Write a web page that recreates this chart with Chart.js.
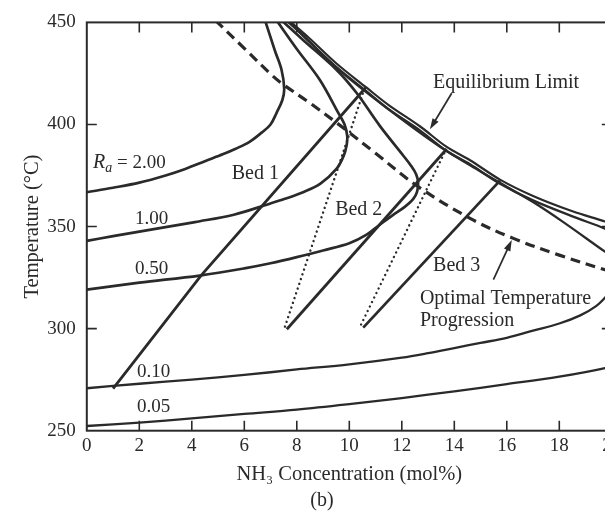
<!DOCTYPE html>
<html>
<head>
<meta charset="utf-8">
<title>Ammonia converter T-x diagram</title>
<script src="https://cdn.jsdelivr.net/npm/chart.js@4.4.1/dist/chart.umd.min.js"></script>
<style>
  html, body { margin: 0; padding: 0; background: #fff; overflow: hidden; }
  canvas { display: block; }
</style>
</head>
<body>
<canvas id="chart" width="640" height="516"></canvas>
<script>
// axis ticks
const concTicks = [0, 2, 4, 6, 8, 10, 12, 14, 16, 18, 20];
const tempTicks = [250, 300, 350, 400, 450];

// rate contours (Ra): NH3 mol% vs temperature °C
const ra200Conc = [0, 1, 2, 3, 3.75, 4.5, 5.2, 5.65, 6.2, 6.66, 7.0, 7.23, 7.45, 7.52, 7.42, 7.17, 6.79];
const ra200Temp = [366.8, 369, 371.5, 375, 378.2, 382, 385.5, 388, 391.5, 396, 400, 405.7, 412, 417.5, 426.7, 436, 451];

const ra100Conc = [0, 1, 2, 3, 4.12, 5.6, 6.97, 7.55, 8.24, 8.9, 9.51, 9.78, 9.9, 9.92, 9.82, 9.58, 8.88, 8.0, 7.23];
const ra100Temp = [343, 345.3, 347.5, 349.7, 352.2, 355.8, 361.2, 363.6, 366.8, 371, 378.2, 384.5, 390, 394.4, 400, 405.7, 421.8, 437, 451];

const ra050Conc = [0, 2, 4.3, 6, 7, 8, 9, 10, 10.66, 11.17, 11.66, 12.1, 12.43, 12.58, 12.62, 12.55, 12.35, 12.06, 11.17, 10.28, 9.52, 8.25, 7.42];
const ra050Temp = [319.1, 322.5, 326, 329.5, 332, 335, 338.3, 341.8, 346, 351, 355.6, 359.5, 363.4, 367, 371.5, 375.5, 379.8, 384.7, 399.2, 415.4, 426.7, 441.3, 451];

const ra010Conc = [0, 2, 4, 6, 8, 10, 12, 13, 14, 15, 16, 17, 18, 18.8, 19.4, 19.8, 20.15, 20.3, 20.2, 19.95, 19.74, 18.14, 17, 16, 15, 13.47, 12, 10, 9, 8.2, 7.6];
const ra010Temp = [270.8, 273, 275, 277.3, 280, 282.5, 285.8, 288, 290.5, 293, 295.5, 299, 302.5, 306.5, 311, 316, 321.5, 327, 332, 336, 337.7, 352.3, 362, 369.5, 377, 389, 402.5, 422.5, 434, 444, 451];

const ra005Conc = [0, 2, 4, 6, 8, 10, 12, 14, 16, 18, 19.74, 20.6, 21.3, 21.7, 21.6, 21.1, 20.5, 19.74, 18.5, 17, 15.74, 14.6, 13.71, 12.7, 11.5, 10.66, 9.5, 8.5, 7.64];
const ra005Temp = [252.3, 254, 256, 258.2, 260.3, 263, 266, 269.3, 272.8, 276.5, 280.7, 284, 292, 310, 328, 340, 344.5, 349, 355, 362.8, 371, 380.5, 387, 397, 407.5, 416.2, 428.2, 440.3, 451];

// equilibrium limit and optimal temperature progression
const eqConc = [7.7, 8.5, 9.5, 10.66, 11.5, 12.7, 13.71, 14.6, 15.74, 17, 18.5, 19.74, 20.5];
const eqTemp = [451, 442, 430, 418, 409.5, 399, 389, 382.5, 373, 365, 357.5, 352.5, 349];

const otpConc = [4.9, 6, 6.98, 7.42, 8.5, 9.52, 11, 12.57, 14.6, 16.25, 18, 19.74, 20.5];
const otpTemp = [451, 437.3, 425, 420.2, 410.5, 400.8, 385.9, 370, 354, 344.2, 336, 328.8, 326];

// adiabatic beds and the cooling steps between them
const bed1Conc = [1.0, 4.35, 10.62];
const bed1Temp = [270.6, 326, 418];
const bed2Conc = [7.62, 13.71];
const bed2Temp = [299.7, 388];
const bed3Conc = [10.53, 15.74];
const bed3Temp = [300.5, 372.5];
const quench1Conc = [7.55, 10.55];
const quench1Temp = [301, 416.5];
const quench2Conc = [10.45, 13.62];
const quench2Temp = [302, 386];

const ink = '#2a2a2a';
const serif = '"Liberation Serif", "Times New Roman", serif';

function pts(xs, ys) {
    return xs.map((x, i) => ({x: x, y: ys[i]}));
}

function curve(xs, ys, extra) {
    return Object.assign({
        data: pts(xs, ys),
        borderColor: ink,
        borderWidth: 2.7,
        pointRadius: 0,
        tension: 0.35,
        fill: false
    }, extra || {});
}

// text placed on the plot (data coordinates of the text's left baseline)
const rateNotes = [
    {text: '1.00', x: 1.84, y: 351.3},
    {text: '0.50', x: 1.84, y: 326.6},
    {text: '0.10', x: 1.91, y: 276.1},
    {text: '0.05', x: 1.91, y: 259.1}
];
const notes = [
    {text: 'Bed 1', x: 5.52, y: 373.2},
    {text: 'Bed 2', x: 9.46, y: 355.7},
    {text: 'Bed 3', x: 13.19, y: 328},
    {text: 'Equilibrium Limit', x: 13.19, y: 417.8},
    {text: 'Optimal Temperature', x: 12.69, y: 312},
    {text: 'Progression', x: 12.69, y: 301.3}
];
const arrows = [
    {from: [13.9, 415.3], to: [13.07, 397.6]},
    {from: [15.49, 324], to: [16.19, 343.4]}
];

const decorations = {
    id: 'decorations',
    afterDatasetsDraw(chart) {
        const {ctx, chartArea: a, scales: {x, y}} = chart;
        ctx.save();

        // frame
        ctx.strokeStyle = ink;
        ctx.lineWidth = 2;
        ctx.strokeRect(a.left, a.top, a.right - a.left, a.bottom - a.top);

        // inward ticks on all four sides
        ctx.lineWidth = 1.6;
        ctx.beginPath();
        concTicks.slice(1, -1).forEach(v => {
            const px = x.getPixelForValue(v);
            ctx.moveTo(px, a.bottom); ctx.lineTo(px, a.bottom - 10);
            ctx.moveTo(px, a.top); ctx.lineTo(px, a.top + 10);
        });
        tempTicks.slice(1, -1).forEach(v => {
            const py = y.getPixelForValue(v);
            ctx.moveTo(a.left, py); ctx.lineTo(a.left + 10, py);
            ctx.moveTo(a.right, py); ctx.lineTo(a.right - 10, py);
        });
        ctx.stroke();

        ctx.fillStyle = ink;
        ctx.textBaseline = 'alphabetic';
        ctx.textAlign = 'left';
        ctx.font = '19px ' + serif;
        rateNotes.forEach(n => ctx.fillText(n.text, x.getPixelForValue(n.x), y.getPixelForValue(n.y)));
        ctx.font = '20px ' + serif;
        notes.forEach(n => ctx.fillText(n.text, x.getPixelForValue(n.x), y.getPixelForValue(n.y)));

        // R_a = 2.00
        let rx = x.getPixelForValue(0.24);
        const ry = y.getPixelForValue(378.5);
        ctx.font = 'italic 20px ' + serif;
        ctx.fillText('R', rx, ry);
        rx += ctx.measureText('R').width;
        ctx.font = 'italic 14px ' + serif;
        ctx.fillText('a', rx, ry + 4);
        rx += ctx.measureText('a').width;
        ctx.font = '19px ' + serif;
        ctx.fillText(' = 2.00', rx, ry);

        // arrows
        ctx.lineWidth = 1.7;
        arrows.forEach(ar => {
            const x0 = x.getPixelForValue(ar.from[0]), y0 = y.getPixelForValue(ar.from[1]);
            const x1 = x.getPixelForValue(ar.to[0]), y1 = y.getPixelForValue(ar.to[1]);
            const ang = Math.atan2(y1 - y0, x1 - x0);
            ctx.beginPath();
            ctx.moveTo(x0, y0);
            ctx.lineTo(x1 - 6 * Math.cos(ang), y1 - 6 * Math.sin(ang));
            ctx.stroke();
            ctx.beginPath();
            ctx.moveTo(x1, y1);
            ctx.lineTo(x1 - 11 * Math.cos(ang) + 3.5 * Math.sin(ang), y1 - 11 * Math.sin(ang) - 3.5 * Math.cos(ang));
            ctx.lineTo(x1 - 11 * Math.cos(ang) - 3.5 * Math.sin(ang), y1 - 11 * Math.sin(ang) + 3.5 * Math.cos(ang));
            ctx.closePath();
            ctx.fill();
        });

        // panel label
        ctx.textAlign = 'center';
        ctx.font = '20px ' + serif;
        ctx.fillText('(b)', x.getPixelForValue(8.96), a.bottom + 75);
        ctx.restore();
    }
};

const dotted = {tension: 0, borderWidth: 2.4, borderDash: [0.01, 5], borderCapStyle: 'round'};

new Chart(document.getElementById('chart'), {
    type: 'line',
    data: {
        datasets: [
            curve(ra200Conc, ra200Temp),
            curve(ra100Conc, ra100Temp),
            curve(ra050Conc, ra050Temp),
            curve(ra010Conc, ra010Temp, {borderWidth: 2.3}),
            curve(ra005Conc, ra005Temp, {borderWidth: 2.3}),
            curve(eqConc, eqTemp, {borderWidth: 2.2}),
            curve(otpConc, otpTemp, {borderWidth: 3.2, borderDash: [10, 6]}),
            curve(bed1Conc, bed1Temp, {tension: 0, borderWidth: 2.8}),
            curve(bed2Conc, bed2Temp, {tension: 0, borderWidth: 2.8}),
            curve(bed3Conc, bed3Temp, {tension: 0, borderWidth: 2.8}),
            curve(quench1Conc, quench1Temp, dotted),
            curve(quench2Conc, quench2Temp, dotted)
        ]
    },
    options: {
        responsive: false,
        animation: false,
        devicePixelRatio: 1,
        layout: {padding: {left: 0, top: 18.7, right: 28.2, bottom: 0}},
        plugins: {legend: {display: false}, tooltip: {enabled: false}},
        scales: {
            x: {
                type: 'linear',
                min: 0,
                max: 20,
                afterBuildTicks: s => { s.ticks = concTicks.map(v => ({value: v})); },
                afterFit: s => { s.height = 85.3; },
                grid: {display: false, drawTicks: false},
                border: {display: false},
                ticks: {font: {family: serif, size: 19}, color: ink, padding: 4, maxRotation: 0, autoSkip: false},
                title: {
                    display: true,
                    text: 'NH\u2083 Concentration (mol%)',
                    font: {family: serif, size: 20.5},
                    color: ink,
                    padding: {top: 0, bottom: 29}
                }
            },
            y: {
                type: 'linear',
                min: 250,
                max: 450,
                afterBuildTicks: s => { s.ticks = tempTicks.map(v => ({value: v})); },
                afterFit: s => { s.width = 86.8; },
                grid: {display: false, drawTicks: false},
                border: {display: false},
                ticks: {font: {family: serif, size: 19}, color: ink, padding: 11},
                title: {
                    display: true,
                    text: 'Temperature (\u00b0C)',
                    font: {family: serif, size: 20.5},
                    color: ink,
                    padding: {top: 20, bottom: 0}
                }
            }
        }
    },
    plugins: [decorations]
});
</script>
</body>
</html>
